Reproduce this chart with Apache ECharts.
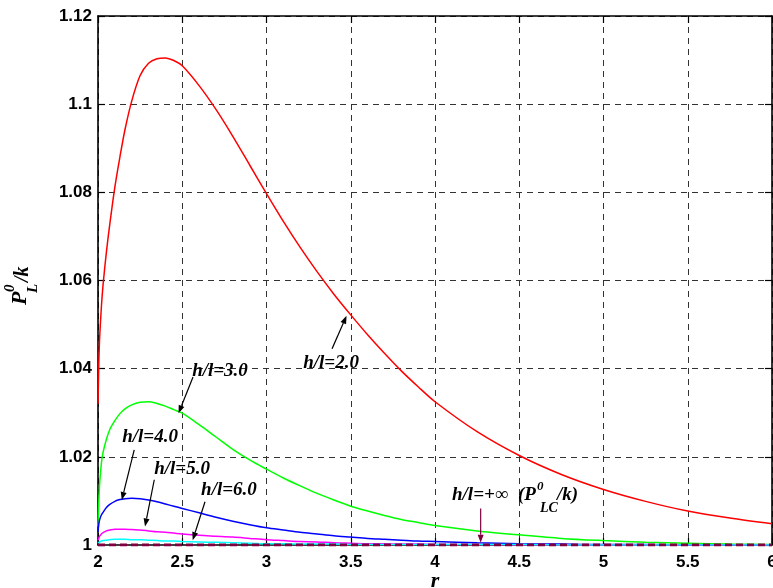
<!DOCTYPE html>
<html>
<head>
<meta charset="utf-8">
<script src="https://cdn.jsdelivr.net/npm/echarts@6/dist/echarts.min.js"></script>
<style>
  html, body { margin: 0; padding: 0; background: #ffffff; }
  #main { width: 773px; height: 588px; }
</style>
</head>
<body>
<div id="main"></div>
<script>
// Radial coordinate r, shared by every curve
const rValues = [2.000, 2.005, 2.01, 2.02, 2.03, 2.05, 2.07, 2.10, 2.13, 2.16,
  2.20, 2.25, 2.30, 2.35, 2.40, 2.45, 2.50, 2.60, 2.70, 2.80,
  2.90, 3.00, 3.10, 3.20, 3.30, 3.40, 3.50, 3.60, 3.70, 3.80,
  3.90, 4.00, 4.25, 4.50, 4.75, 5.00, 5.25, 5.50, 5.75, 6.00];

// P_L^0 / k for each h/l ratio
const pHL2 = [1.0320, 1.0415, 1.0472, 1.0540, 1.0590, 1.0665, 1.0728, 1.0812, 1.0880, 1.0942,
  1.1007, 1.1065, 1.1093, 1.1103, 1.1105, 1.1099, 1.1087, 1.1042, 1.0988, 1.0927,
  1.0862, 1.0797, 1.0734, 1.0675, 1.0620, 1.0569, 1.0522, 1.0477, 1.0435, 1.0395,
  1.0359, 1.0325, 1.0257, 1.0203, 1.0160, 1.0126, 1.0099, 1.0077, 1.0061, 1.0048];

const pHL3 = [1.0042, 1.0100, 1.0140, 1.0185, 1.0210, 1.0240, 1.0262, 1.0282, 1.0298, 1.0309,
  1.0318, 1.0324, 1.0325, 1.0321, 1.0315, 1.0307, 1.0299, 1.0273, 1.0245, 1.0217,
  1.0193, 1.0172, 1.0152, 1.0134, 1.0117, 1.0102, 1.0088, 1.0077, 1.0067, 1.0058,
  1.0051, 1.0044, 1.0032, 1.0023, 1.0015, 1.0010, 1.0006, 1.0004, 1.0002, 1.0001];

const pHL4 = [1.0030, 1.0048, 1.0058, 1.0068, 1.0074, 1.0085, 1.0092, 1.0099, 1.0103, 1.0105,
  1.0106, 1.0105, 1.0102, 1.0098, 1.0093, 1.0088, 1.0083, 1.0073, 1.0063, 1.0054,
  1.0046, 1.0039, 1.0034, 1.0029, 1.0025, 1.0021, 1.0018, 1.0015, 1.0013, 1.0011,
  1.0009, 1.0008, 1.0005, 1.0003, 1.0002, 1.0001, 1.0001, 1.0000, 1.0000, 1.0000];

const pHL5 = [1.0011, 1.0016, 1.0020, 1.0025, 1.0028, 1.0032, 1.0034, 1.0036, 1.0036, 1.0036,
  1.0035, 1.0034, 1.0032, 1.0030, 1.0029, 1.0027, 1.0025, 1.0022, 1.0020, 1.0018,
  1.0015, 1.0012, 1.0010, 1.0008, 1.0007, 1.0005, 1.0004, 1.0003, 1.0003, 1.0002,
  1.0002, 1.0001, 1.0001, 1.0000, 1.0000, 1.0000, 1.0000, 1.0000, 1.0000, 1.0000];

const pHL6 = [1.0004, 1.0006, 1.0007, 1.0009, 1.0010, 1.0011, 1.0012, 1.0013, 1.0013, 1.0013,
  1.0012, 1.0012, 1.0011, 1.0010, 1.0009, 1.0009, 1.0008, 1.0007, 1.0006, 1.0005,
  1.0004, 1.0003, 1.0003, 1.0002, 1.0002, 1.0002, 1.0001, 1.0001, 1.0001, 1.0001,
  1.0001, 1.0001, 1.0001, 1.0001, 1.0000, 1.0000, 1.0000, 1.0000, 1.0000, 1.0000];

// Limit case h/l = +inf  (P_LC^0 / k)
const pHLInf = [1, 1, 1, 1, 1, 1, 1, 1, 1, 1, 1, 1, 1, 1, 1, 1, 1, 1, 1, 1,
  1, 1, 1, 1, 1, 1, 1, 1, 1, 1, 1, 1, 1, 1, 1, 1, 1, 1, 1, 1];

// Tick labels
const xTickLabels = ['2', '2.5', '3', '3.5', '4', '4.5', '5', '5.5', '6'];
const yTickLabels = ['1', '1.02', '1.04', '1.06', '1.08', '1.1', '1.12'];

// Curve labels: text anchor and arrow (tail -> head), in data coordinates
const curveLabels = ['h/l=2.0', 'h/l=3.0', 'h/l=4.0', 'h/l=5.0', 'h/l=6.0'];
const labelAnchors = [[3.383, 1.0413], [2.724, 1.0395], [2.309, 1.0245], [2.499, 1.0172], [2.777, 1.0125]];
const arrowTails = [[3.389, 1.0445], [2.564, 1.0381], [2.215, 1.0216], [2.334, 1.0148], [2.635, 1.0098]];
const arrowHeads = [[3.475, 1.0520], [2.478, 1.0299], [2.141, 1.0102], [2.279, 1.0042], [2.562, 1.0011]];
const infLabelAnchor = [4.101, 1.0113];
const infArrowTail = [4.271, 1.0083];
const infArrowHead = [4.271, 1.0005];

const X_MIN = 2, X_MAX = 6, X_STEP = 0.5;
const Y_MIN = 1, Y_MAX = 1.12, Y_STEP = 0.02;

const tickFont = { fontFamily: '"Liberation Sans", Arial, sans-serif', fontWeight: 'bold', fontSize: 17, color: '#000' };
const serifBI = (size) => 'italic bold ' + size + 'px "Liberation Serif", "Times New Roman", serif';

function pairs(ys) { return rValues.map((r, i) => [r, ys[i]]); }

const chart = echarts.init(document.getElementById('main'), null, { renderer: 'canvas' });

const gridLine = { show: true, lineStyle: { color: '#333', width: 1, type: [6, 5] } };
const frameLine = { show: true, onZero: false, lineStyle: { color: '#000', width: 1.6 } };
const innerTick = { show: true, inside: true, length: 7, lineStyle: { color: '#000', width: 1.2 } };

function curve(name, ys, color, extra) {
  return Object.assign({
    name: name, type: 'line', data: pairs(ys), showSymbol: false, smooth: 0.3,
    lineStyle: { color: color, width: 1.5 }, itemStyle: { color: color },
    z: 3, animation: false, clip: true
  }, extra || {});
}

chart.setOption({
  animation: false,
  backgroundColor: '#ffffff',
  grid: { left: 98, right: 1, top: 16, bottom: 43, containLabel: false, outerBoundsMode: 'none' },
  xAxis: [
    {
      type: 'value', position: 'bottom', min: X_MIN, max: X_MAX, interval: X_STEP,
      axisLine: frameLine, axisTick: innerTick, splitLine: gridLine,
      axisLabel: Object.assign({ margin: 9, formatter: (v) => xTickLabels[Math.round((v - X_MIN) / X_STEP)] }, tickFont)
    },
    {
      type: 'value', position: 'top', min: X_MIN, max: X_MAX, interval: X_STEP,
      axisLine: frameLine, axisTick: innerTick, splitLine: { show: false }, axisLabel: { show: false }
    }
  ],
  yAxis: [
    {
      type: 'value', position: 'left', min: Y_MIN, max: Y_MAX, interval: Y_STEP,
      axisLine: frameLine, axisTick: innerTick, splitLine: gridLine,
      axisLabel: Object.assign({ margin: 6, formatter: (v) => yTickLabels[Math.round((v - Y_MIN) / Y_STEP)] }, tickFont)
    },
    {
      type: 'value', position: 'right', min: Y_MIN, max: Y_MAX, interval: Y_STEP,
      axisLine: frameLine, axisTick: innerTick, splitLine: { show: false }, axisLabel: { show: false }
    }
  ],
  series: [
    curve('h/l=2.0', pHL2, '#ff0000'),
    curve('h/l=3.0', pHL3, '#00ff00'),
    curve('h/l=4.0', pHL4, '#0000ff'),
    curve('h/l=5.0', pHL5, '#ff00ff'),
    curve('h/l=6.0', pHL6, '#00ffff'),
    curve('h/l=+inf', pHLInf, '#800040', { smooth: false, z: 4, lineStyle: { color: '#800040', width: 3, type: [7, 4] } })
  ]
});

// Annotations: labels, arrows and the axis titles
function px(pt) { return chart.convertToPixel({ gridIndex: 0 }, pt); }

function arrow(tail, head, color) {
  const a = px(tail), b = px(head);
  const dx = b[0] - a[0], dy = b[1] - a[1];
  const len = Math.sqrt(dx * dx + dy * dy);
  const ux = dx / len, uy = dy / len;
  const hl = 8, hw = 3;
  const bx = b[0] - ux * hl, by = b[1] - uy * hl;
  return [
    { type: 'line', shape: { x1: a[0], y1: a[1], x2: bx, y2: by }, style: { stroke: color, lineWidth: 1.2 }, z: 10 },
    { type: 'polygon', shape: { points: [[b[0], b[1]], [bx - uy * hw, by + ux * hw], [bx + uy * hw, by - ux * hw]] }, style: { fill: color }, z: 10 }
  ];
}

const graphics = [];
curveLabels.forEach((txt, i) => {
  const p = px(labelAnchors[i]);
  graphics.push({ type: 'text', x: p[0], y: p[1], z: 10,
    style: { text: txt, font: serifBI(19), fill: '#000', align: 'center', verticalAlign: 'middle' } });
  graphics.push(...arrow(arrowTails[i], arrowHeads[i], '#000'));
});

// h/l=+inf (P_LC^0/k)
const ia = px(infLabelAnchor);
graphics.push({ type: 'group', x: ia[0], y: ia[1], z: 10, children: [
  { type: 'text', x: 0, y: 0, style: { text: 'h/l=+\u221E', font: serifBI(19), fill: '#000', align: 'left', verticalAlign: 'middle' } },
  { type: 'text', x: 66, y: 0, style: { text: '(P', font: serifBI(19), fill: '#000', align: 'left', verticalAlign: 'middle' } },
  { type: 'text', x: 85, y: -9, style: { text: '0', font: serifBI(13), fill: '#000', align: 'left', verticalAlign: 'middle' } },
  { type: 'text', x: 88, y: 13, style: { text: 'LC', font: serifBI(14), fill: '#000', align: 'left', verticalAlign: 'middle' } },
  { type: 'text', x: 105, y: 0, style: { text: '/k)', font: serifBI(19), fill: '#000', align: 'left', verticalAlign: 'middle' } }
] });
graphics.push(...arrow(infArrowTail, infArrowHead, '#800040'));

// X-axis title r
const xt = px([4, 1]);
graphics.push({ type: 'text', x: xt[0], y: 581, z: 10,
  style: { text: 'r', font: serifBI(22), fill: '#000', align: 'center', verticalAlign: 'middle' } });

// Y-axis title P_L^0/k, reading bottom to top
graphics.push({ type: 'group', x: 27, y: 305, rotation: Math.PI / 2, z: 10, children: [
  { type: 'text', x: 0, y: -7, style: { text: 'P', font: serifBI(22), fill: '#000', align: 'left', verticalAlign: 'middle' } },
  { type: 'text', x: 13, y: -17, style: { text: '0', font: serifBI(15), fill: '#000', align: 'left', verticalAlign: 'middle' } },
  { type: 'text', x: 12, y: 6, style: { text: 'L', font: serifBI(15), fill: '#000', align: 'left', verticalAlign: 'middle' } },
  { type: 'text', x: 23, y: -4, style: { text: '/k', font: serifBI(20), fill: '#000', align: 'left', verticalAlign: 'middle' } }
] });

chart.setOption({ graphic: graphics });
</script>
</body>
</html>
